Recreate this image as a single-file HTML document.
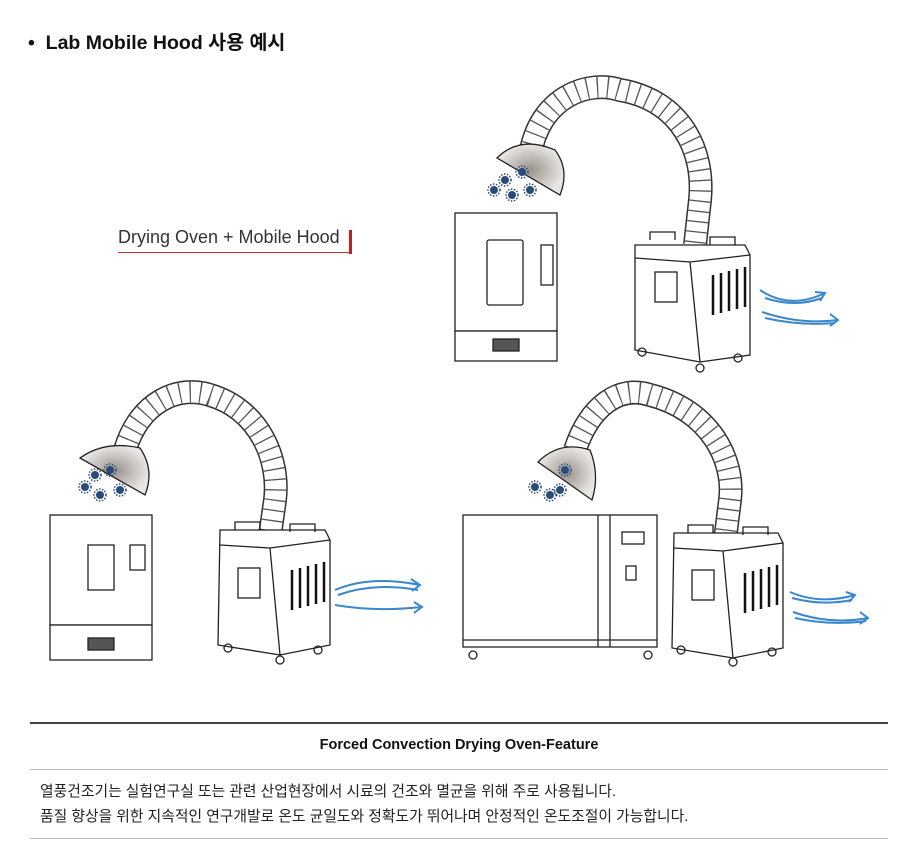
<!DOCTYPE html>
<html><head><meta charset="utf-8"><style>
body{margin:0;width:909px;height:851px;background:#fff;font-family:"Liberation Sans","Noto Sans CJK KR",sans-serif;position:relative;overflow:hidden}
.t{position:absolute;white-space:nowrap}
</style></head><body>
<div class="t" style="left:28px;top:26px;font-size:19.5px;font-weight:bold;color:#111">•&nbsp; Lab Mobile Hood 사용 예시</div>
<div class="t" style="left:118px;top:227px;font-size:18px;color:#333">Drying Oven + Mobile Hood</div>
<div style="position:absolute;left:118px;top:252px;width:234px;height:1px;background:#c33"></div>
<div style="position:absolute;left:349px;top:230px;width:3px;height:24px;background:#b22"></div>

<svg width="909" height="700" style="position:absolute;left:0;top:0">
<defs>
<g id="vir"><circle r="4" fill="#2a4a7a"/><circle r="6" fill="none" stroke="#2a4a7a" stroke-width="1.5" stroke-dasharray="1.5 1.5"/></g>
<radialGradient id="sm"><stop offset="0" stop-color="#9a938c"/><stop offset="1" stop-color="#e8e6e4"/></radialGradient>
</defs>
<g fill="none" stroke="#222" stroke-width="1.3">
<!-- scene 1 -->
<path d="M530 155 C540 95 590 80 620 90 C680 100 705 150 700 200 L695 245" stroke="#333" stroke-width="24"/>
<path d="M530 155 C540 95 590 80 620 90 C680 100 705 150 700 200 L695 245" stroke="#fff" stroke-width="21"/>
<path d="M530 155 C540 95 590 80 620 90 C680 100 705 150 700 200 L695 245" stroke="#555" stroke-width="21" stroke-dasharray="1.3 9"/>
<path d="M497 158 Q520 135 555 150 Q570 170 560 195 Z" fill="url(#sm)"/>
<rect x="455" y="213" width="102" height="118" fill="#fff"/><rect x="455" y="331" width="102" height="30" fill="#fff"/>
<rect x="487" y="240" width="36" height="65" rx="2"/><rect x="541" y="245" width="12" height="40"/>
<rect x="493" y="339" width="26" height="12" fill="#555"/>
<path d="M635 245 L745 245 L750 255 L750 355 L700 362 L635 350 Z" fill="#fff"/>
<path d="M635 258 L690 262 L750 255 M690 262 L700 362"/>
<rect x="655" y="272" width="22" height="30"/>
<g stroke="#111" stroke-width="2.5"><path d="M713 275v40M721 273v40M729 271v40M737 269v40M745 267v40"/></g>
<path d="M650 240 v-8 h25 v8 M710 245 v-8 h25 v8"/>
<circle cx="642" cy="352" r="4"/><circle cx="700" cy="368" r="4"/><circle cx="738" cy="358" r="4"/>
<!-- scene 2 -->
<path d="M125 450 C140 400 180 385 210 395 C260 410 280 460 275 500 L270 535" stroke="#333" stroke-width="24"/>
<path d="M125 450 C140 400 180 385 210 395 C260 410 280 460 275 500 L270 535" stroke="#fff" stroke-width="21"/>
<path d="M125 450 C140 400 180 385 210 395 C260 410 280 460 275 500 L270 535" stroke="#555" stroke-width="21" stroke-dasharray="1.3 9"/>
<path d="M80 458 Q105 440 140 448 Q155 470 145 495 Z" fill="url(#sm)"/>
<rect x="50" y="515" width="102" height="110" fill="#fff"/><rect x="50" y="625" width="102" height="35" fill="#fff"/>
<rect x="88" y="545" width="26" height="45"/><rect x="130" y="545" width="15" height="25"/>
<rect x="88" y="638" width="26" height="12" fill="#555"/>
<path d="M220 530 L325 530 L330 540 L330 645 L280 655 L218 645 Z" fill="#fff"/>
<path d="M220 545 L270 548 L330 540 M270 548 L280 655"/>
<rect x="238" y="568" width="22" height="30"/>
<g stroke="#111" stroke-width="2.5"><path d="M292 570v40M300 568v40M308 566v40M316 564v40M324 562v40"/></g>
<path d="M235 530 v-8 h25 v8 M290 532 v-8 h25 v8"/>
<circle cx="228" cy="648" r="4"/><circle cx="280" cy="660" r="4"/><circle cx="318" cy="650" r="4"/>
<!-- scene 3 -->
<path d="M575 450 C590 405 620 385 650 395 C710 410 735 460 730 500 L725 540" stroke="#333" stroke-width="24"/>
<path d="M575 450 C590 405 620 385 650 395 C710 410 735 460 730 500 L725 540" stroke="#fff" stroke-width="21"/>
<path d="M575 450 C590 405 620 385 650 395 C710 410 735 460 730 500 L725 540" stroke="#555" stroke-width="21" stroke-dasharray="1.3 9"/>
<path d="M538 462 Q560 440 590 450 Q600 475 592 500 Z" fill="url(#sm)"/>
<rect x="463" y="515" width="194" height="132" fill="#fff"/>
<path d="M610 515 v132 M598 515 v132 M463 640 h194"/>
<rect x="622" y="532" width="22" height="12"/><rect x="626" y="566" width="10" height="14"/>
<circle cx="473" cy="655" r="4"/><circle cx="648" cy="655" r="4"/>
<path d="M674 533 L778 533 L783 543 L783 648 L733 658 L672 648 Z" fill="#fff"/>
<path d="M674 548 L723 551 L783 543 M723 551 L733 658"/>
<rect x="692" y="570" width="22" height="30"/>
<g stroke="#111" stroke-width="2.5"><path d="M745 573v40M753 571v40M761 569v40M769 567v40M777 565v40"/></g>
<path d="M688 533 v-8 h25 v8 M743 535 v-8 h25 v8"/>
<circle cx="681" cy="650" r="4"/><circle cx="733" cy="662" r="4"/><circle cx="772" cy="652" r="4"/>
</g>
<g fill="none" stroke="#3a88cc" stroke-width="2">
<path d="M760 290 Q790 310 825 293 M815 292 L825 293 L820 301"/><path d="M765 298 Q795 308 822 298"/>
<path d="M762 312 Q800 325 838 320 M830 314 L838 320 L830 326"/><path d="M765 318 Q800 326 835 323"/>
<path d="M335 590 Q370 575 420 585 M411 579 L420 585 L412 591"/><path d="M338 595 Q375 582 418 590"/>
<path d="M335 605 Q375 612 422 607 M414 602 L422 607 L414 613"/>
<path d="M790 592 Q820 605 855 595 M846 592 L855 595 L849 602"/><path d="M792 598 Q822 606 852 600"/>
<path d="M793 612 Q830 625 868 618 M860 612 L868 618 L860 624"/><path d="M795 618 Q830 626 866 621"/>
</g>
<g fill="#2a4a7a">
<use href="#vir" x="522" y="172"/><use href="#vir" x="494" y="190"/><use href="#vir" x="512" y="195"/><use href="#vir" x="530" y="190"/><use href="#vir" x="505" y="180"/>
<use href="#vir" x="110" y="470"/><use href="#vir" x="85" y="487"/><use href="#vir" x="100" y="495"/><use href="#vir" x="120" y="490"/><use href="#vir" x="95" y="475"/>
<use href="#vir" x="565" y="470"/><use href="#vir" x="535" y="487"/><use href="#vir" x="550" y="495"/><use href="#vir" x="560" y="490"/>
</g>
</svg>

<div style="position:absolute;left:30px;top:722px;width:858px;height:2px;background:#444"></div>
<div class="t" style="left:30px;width:858px;top:737px;text-align:center;font-size:14.5px;font-weight:bold;color:#111">Forced Convection Drying Oven-Feature</div>
<div style="position:absolute;left:30px;top:769px;width:858px;height:1px;background:#bbb"></div>
<div class="t" style="left:40px;top:780px;font-size:14.8px;color:#222">열풍건조기는 실험연구실 또는 관련 산업현장에서 시료의 건조와 멸균을 위해 주로 사용됩니다.</div>
<div class="t" style="left:40px;top:805px;font-size:14.8px;color:#222">품질 향상을 위한 지속적인 연구개발로 온도 균일도와 정확도가 뛰어나며 안정적인 온도조절이 가능합니다.</div>
<div style="position:absolute;left:30px;top:838px;width:858px;height:1px;background:#bbb"></div>
</body></html>
